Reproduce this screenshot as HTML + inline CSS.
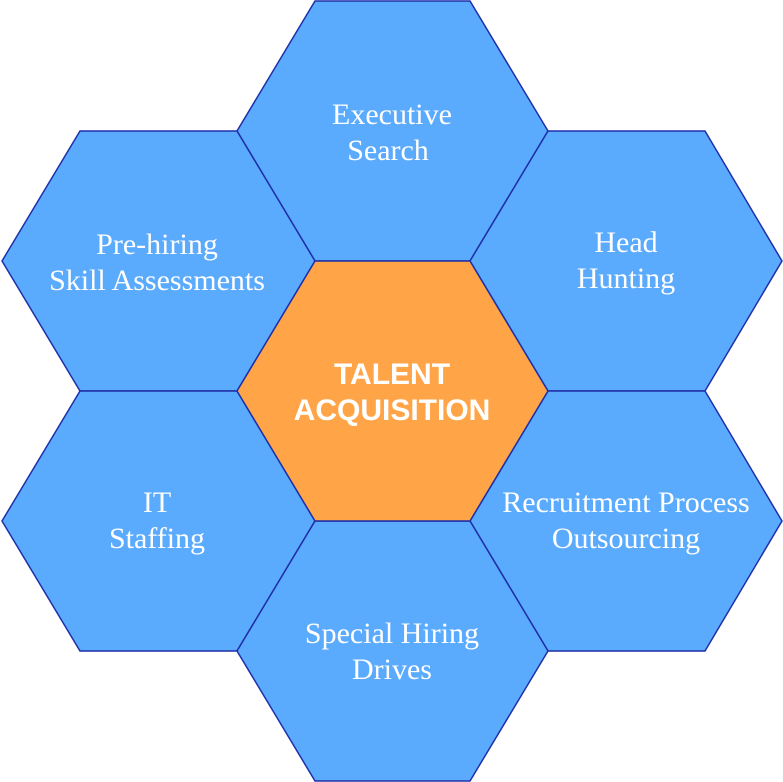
<!DOCTYPE html>
<html><head><meta charset="utf-8"><style>
html,body{margin:0;padding:0;background:#fff;}
svg{display:block;}
.h{fill:#5aabfe;stroke:#1f2fa8;stroke-width:1.5;}
.t{font-family:"Liberation Serif",serif;font-size:30px;fill:#fff;text-anchor:middle;}
.c{font-family:"Liberation Sans",sans-serif;font-size:30px;font-weight:bold;fill:#fff;text-anchor:middle;}
</style></head><body>
<svg width="783" height="782" viewBox="0 0 783 782">
<polygon class="h" points="237,131 315,1 470,1 548,131 470,261 315,261"/>
<polygon class="h" points="2,261 80,131 237,131 315,261 237,391 80,391"/>
<polygon class="h" points="470,261 548,131 705,131 782,261 705,391 548,391"/>
<polygon class="h" points="2,521 80,391 237,391 315,521 237,651 80,651"/>
<polygon class="h" points="470,521 548,391 705,391 782,521 705,651 548,651"/>
<polygon class="h" points="237,651 315,521 470,521 548,651 470,781 315,781"/>
<polygon points="237,391 315,261 470,261 548,391 470,521 315,521" fill="#ffa548" stroke="#1f2fa8" stroke-width="1.5"/>
<text class="t" x="392" y="124">Executive</text>
<text class="t" x="388" y="160">Search</text>
<text class="t" x="157" y="254">Pre-hiring</text>
<text class="t" x="157" y="290">Skill Assessments</text>
<text class="t" x="626" y="252">Head</text>
<text class="t" x="626" y="288">Hunting</text>
<text class="c" x="392" y="384">TALENT</text>
<text class="c" x="392" y="420">ACQUISITION</text>
<text class="t" x="157" y="512">IT</text>
<text class="t" x="157" y="548">Staffing</text>
<text class="t" x="626" y="512">Recruitment Process</text>
<text class="t" x="626" y="548">Outsourcing</text>
<text class="t" x="392" y="643">Special Hiring</text>
<text class="t" x="392" y="679">Drives</text>
</svg>
</body></html>
